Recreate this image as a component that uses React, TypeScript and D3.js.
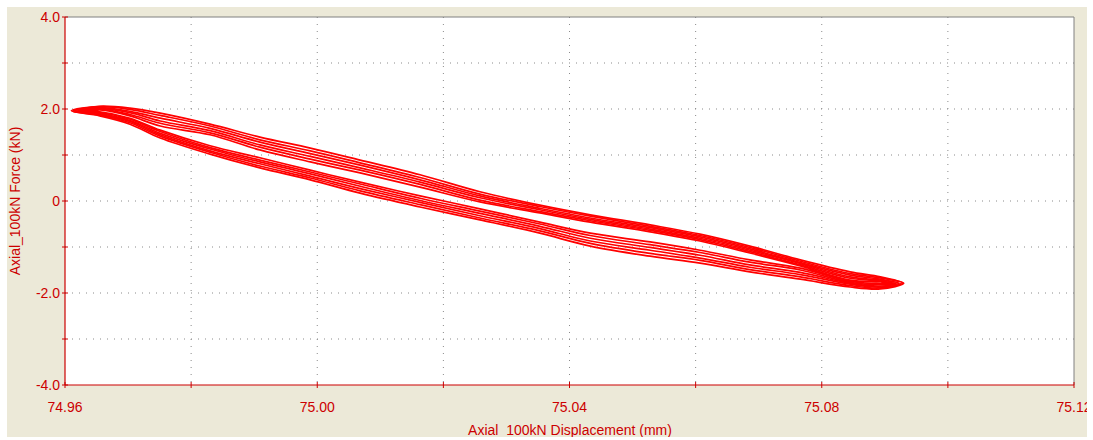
import React from "react";
import * as d3 from "d3";

// Displacement stations (mm) where each branch was read
const stations = [74.9655, 74.9703, 74.9751, 74.983, 74.9909, 74.9989, 75.0068, 75.0163, 75.0258, 75.0353, 75.0433, 75.0528, 75.0607, 75.0686, 75.0766, 75.0845, 75.0893];

// Loop tips per cycle [displacement, force]
const leftTips = [[74.961, 1.96], [74.9612, 1.95], [74.9615, 1.96], [74.9618, 1.95], [74.962, 1.94], [74.9623, 1.95]];
const rightTips = [[75.093, -1.79], [75.0928, -1.78], [75.0925, -1.8], [75.0922, -1.79], [75.0918, -1.8], [75.0915, -1.79]];

// Upper branch force (kN) per cycle
const upperForce = [
  [2.06, 2.02, 1.91, 1.67, 1.39, 1.15, 0.89, 0.57, 0.2, -0.09, -0.3, -0.52, -0.72, -0.98, -1.28, -1.54, -1.65],
  [2.05, 1.99, 1.86, 1.63, 1.33, 1.09, 0.83, 0.51, 0.15, -0.12, -0.33, -0.55, -0.75, -1.01, -1.31, -1.58, -1.67],
  [2.03, 1.95, 1.8, 1.58, 1.28, 1.03, 0.78, 0.46, 0.11, -0.16, -0.37, -0.58, -0.78, -1.04, -1.34, -1.61, -1.7],
  [2.01, 1.92, 1.74, 1.53, 1.22, 0.97, 0.72, 0.41, 0.07, -0.19, -0.4, -0.61, -0.81, -1.07, -1.36, -1.65, -1.72],
  [2.0, 1.88, 1.69, 1.48, 1.17, 0.91, 0.67, 0.36, 0.02, -0.23, -0.43, -0.64, -0.84, -1.1, -1.39, -1.68, -1.74],
  [1.98, 1.85, 1.63, 1.44, 1.11, 0.85, 0.61, 0.3, -0.02, -0.26, -0.46, -0.67, -0.87, -1.13, -1.41, -1.72, -1.76],
];

// Lower branch force (kN) per cycle
const lowerForce = [
  [1.85, 1.67, 1.37, 1.02, 0.72, 0.46, 0.17, -0.13, -0.41, -0.7, -0.98, -1.2, -1.35, -1.54, -1.7, -1.87, -1.91],
  [1.87, 1.7, 1.41, 1.06, 0.76, 0.5, 0.22, -0.08, -0.37, -0.65, -0.92, -1.14, -1.29, -1.49, -1.65, -1.84, -1.89],
  [1.88, 1.73, 1.44, 1.09, 0.81, 0.54, 0.27, -0.03, -0.32, -0.6, -0.87, -1.07, -1.24, -1.44, -1.6, -1.81, -1.87],
  [1.9, 1.75, 1.47, 1.13, 0.85, 0.59, 0.32, 0.01, -0.27, -0.55, -0.81, -1.01, -1.18, -1.39, -1.55, -1.79, -1.85],
  [1.92, 1.78, 1.51, 1.16, 0.89, 0.63, 0.37, 0.06, -0.22, -0.5, -0.75, -0.95, -1.12, -1.33, -1.5, -1.77, -1.82],
  [1.94, 1.8, 1.54, 1.2, 0.94, 0.67, 0.41, 0.11, -0.17, -0.46, -0.7, -0.89, -1.07, -1.28, -1.46, -1.75, -1.8],
];

const xTicks = [74.96, 74.98, 75.0, 75.02, 75.04, 75.06, 75.08, 75.1, 75.12];
const xTickLabels = ["74.96", "", "75.00", "", "75.04", "", "75.08", "", "75.12"];
const yTicks = [4, 3, 2, 1, 0, -1, -2, -3, -4];
const yTickLabels = ["4.0", "", "2.0", "", "0", "", "-2.0", "", "-4.0"];

const W = 1093;
const H = 440;
const L = 65, R = 1074, T = 17, B = 385;
const RED = "#cc0000";
const FONT = "'Liberation Sans', Arial, sans-serif";

export default function App() {
  const x = d3.scaleLinear().domain([74.96, 75.12]).range([L, R]);
  const y = d3.scaleLinear().domain([-4, 4]).range([B, T]);
  const line = d3
    .line<number[]>()
    .x((d) => x(d[0]))
    .y((d) => y(d[1]))
    .curve(d3.curveCatmullRomClosed);

  const loops = upperForce.map((up, c) => {
    const pts: number[][] = [];
    pts.push(leftTips[c]);
    stations.forEach((s, i) => pts.push([s, up[i]]));
    pts.push(rightTips[c]);
    for (let i = stations.length - 1; i >= 0; i--) pts.push([stations[i], lowerForce[c][i]]);
    return line(pts) || "";
  });

  return (
    <svg width={W} height={H} style={{ position: "absolute", left: 0, top: 0 }}>
      <defs>
        <clipPath id="panel">
          <rect x={7} y={7} width={1080} height={430} />
        </clipPath>
        <clipPath id="plot">
          <rect x={L} y={T} width={R - L} height={B - T} />
        </clipPath>
      </defs>
      <rect x={0} y={0} width={W} height={H} fill="#ffffff" />
      <g clipPath="url(#panel)">
        <rect x={7} y={7} width={1080} height={430} fill="#ece9d8" />
        <rect x={L} y={T} width={R - L} height={B - T} fill="#ffffff" />
        {xTicks.slice(1, -1).map((t) => (
          <line key={"gx" + t} x1={x(t)} x2={x(t)} y1={T} y2={B} stroke="#8a8a8a" strokeWidth={1} strokeDasharray="1,6" />
        ))}
        {yTicks.slice(1, -1).map((t) => (
          <line key={"gy" + t} x1={L} x2={R} y1={y(t)} y2={y(t)} stroke="#8a8a8a" strokeWidth={1} strokeDasharray="1,6" />
        ))}
        <line x1={L} x2={R} y1={T} y2={T} stroke="#808080" strokeWidth={1} />
        <line x1={R} x2={R} y1={T} y2={B} stroke="#808080" strokeWidth={1} />
        <g clipPath="url(#plot)">
          {loops.map((d, i) => (
            <path key={i} d={d} fill="none" stroke="#ff0000" strokeWidth={1.7} />
          ))}
        </g>
        <line x1={L} x2={L} y1={T} y2={B} stroke={RED} strokeWidth={1.2} />
        <line x1={L} x2={R} y1={B} y2={B} stroke={RED} strokeWidth={1.2} />
        {yTicks.map((t, i) => (
          <g key={"ty" + t}>
            <line x1={L - 3} x2={L + 3} y1={y(t)} y2={y(t)} stroke={RED} strokeWidth={1} />
            {yTickLabels[i] && (
              <text x={L - 5} y={y(t) + 5} textAnchor="end" fontFamily={FONT} fontSize={14} fill={RED}>
                {yTickLabels[i]}
              </text>
            )}
          </g>
        ))}
        {xTicks.map((t, i) => (
          <g key={"tx" + t}>
            <line x1={x(t)} x2={x(t)} y1={B - 3} y2={B + 3} stroke={RED} strokeWidth={1} />
            {xTickLabels[i] && (
              <text x={x(t)} y={412} textAnchor="middle" fontFamily={FONT} fontSize={14} fill={RED}>
                {xTickLabels[i]}
              </text>
            )}
          </g>
        ))}
        <text x={570} y={435} textAnchor="middle" fontFamily={FONT} fontSize={14} fill={RED}>
          Axial_100kN Displacement (mm)
        </text>
        <text transform="translate(20,201) rotate(-90)" textAnchor="middle" fontFamily={FONT} fontSize={14} fill={RED}>
          Axial_100kN Force (kN)
        </text>
      </g>
    </svg>
  );
}
